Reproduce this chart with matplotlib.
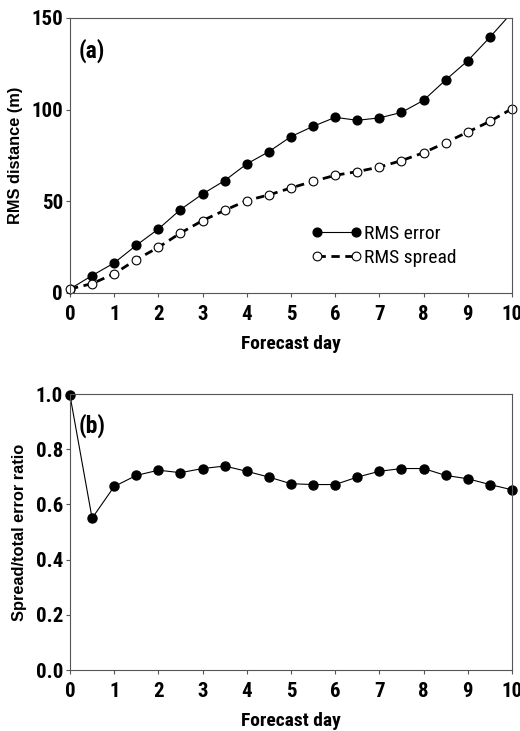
import matplotlib
matplotlib.use("Agg")
import matplotlib.pyplot as plt
from matplotlib import font_manager

days = [0, 0.5, 1, 1.5, 2, 2.5, 3, 3.5, 4, 4.5, 5, 5.5, 6, 6.5, 7, 7.5, 8, 8.5, 9, 9.5, 10]
rms_error = [2.2, 9.5, 16.4, 26.0, 34.9, 45.5, 54.0, 61.3, 70.4, 77.1, 85.3, 90.9, 95.8,
             94.2, 95.5, 98.5, 105.1, 116.2, 126.7, 139.5, 153.0]
rms_spread = [2.2, 5.1, 10.5, 18.2, 24.9, 32.7, 39.5, 45.1, 50.4, 53.5, 57.3, 60.9, 64.2,
              66.2, 68.7, 72.2, 76.5, 82.0, 87.8, 93.6, 100.5]
ratio = [0.995, 0.55, 0.665, 0.705, 0.724, 0.715, 0.73, 0.739, 0.72, 0.699, 0.675, 0.672,
         0.672, 0.699, 0.72, 0.73, 0.73, 0.705, 0.693, 0.672, 0.653]

x_ticks = list(range(0, 11))
y_ticks_a = [0, 50, 100, 150]
y_ticks_b = [0.0, 0.2, 0.4, 0.6, 0.8, 1.0]


def has_bold(name):
    for f in font_manager.fontManager.ttflist:
        if f.name == name and str(f.weight) in ("700", "bold") and f.style == "normal":
            return True
    return False


# condensed sans with a real bold face, else plain Liberation Sans
narrow = "Liberation Sans"
for cand in ["Liberation Sans Narrow", "Arial Narrow", "Roboto Condensed", "Archivo Narrow",
             "PT Sans Narrow", "Fira Sans Condensed", "IBM Plex Sans Condensed",
             "Barlow Semi Condensed", "Encode Sans Condensed", "Asap Condensed"]:
    if has_bold(cand):
        narrow = cand
        break
wide = "Liberation Sans"

fig = plt.figure(figsize=(5.2, 7.31), dpi=100)
ax_a = fig.add_axes([0.1346, 0.5992, 0.85, 0.3762])
ax_b = fig.add_axes([0.1346, 0.0834, 0.85, 0.3776])

frame_col = "#555555"


def style(ax, yticks, ylabels):
    for s in ax.spines.values():
        s.set_color(frame_col)
        s.set_linewidth(0.8)
    ax.set_xlim(0, 10)
    ax.set_xticks(x_ticks)
    ax.set_xticklabels([str(t) for t in x_ticks], family=narrow, weight="bold", fontsize=15)
    ax.set_yticks(yticks)
    ax.set_yticklabels(ylabels, family=narrow, weight="bold", fontsize=15)
    ax.tick_params(direction="out", length=3, width=0.8, color=frame_col)
    ax.tick_params(axis="x", pad=5.5)
    ax.tick_params(axis="y", pad=2)
    ax.set_xlabel("Forecast day", family=narrow, weight="bold", fontsize=14, labelpad=8)


# (a) RMS error and spread
ax_a.plot(days, rms_error, color="black", lw=0.8, marker="o", ms=6.3,
          mfc="black", mec="black", label="RMS error", clip_on=True)
ax_a.plot(days, rms_spread, color="black", lw=2.0, ls=(0, (3, 2)), marker="o", ms=6.3,
          mfc="white", mec="black", mew=0.8, label="RMS spread", clip_on=False)
ax_a.set_ylim(0, 150)
style(ax_a, y_ticks_a, [str(t) for t in y_ticks_a])
ax_a.set_ylabel("RMS distance (m)", family=wide, weight="bold", fontsize=11.8, labelpad=6)
ax_a.text(0.02, 0.88, "(a)", transform=ax_a.transAxes, family=narrow, weight="bold",
          fontsize=17, va="center")
ax_a.legend(loc="upper left", bbox_to_anchor=(0.545, 0.247), frameon=False, numpoints=2,
            borderpad=0, borderaxespad=0, handlelength=2.6, handletextpad=0.15,
            labelspacing=0.29, prop={"family": narrow, "size": 14})

# (b) spread / total error ratio
ax_b.plot(days, ratio, color="black", lw=0.8, marker="o", ms=6.5, mfc="black", mec="black",
          clip_on=False)
ax_b.set_ylim(0, 1.0)
style(ax_b, y_ticks_b, [f"{t:.1f}" for t in y_ticks_b])
ax_b.set_ylabel("Spread/total error ratio", family=wide, weight="bold", fontsize=11.8,
                labelpad=6)
ax_b.text(0.02, 0.884, "(b)", transform=ax_b.transAxes, family=narrow, weight="bold",
          fontsize=17, va="center")

fig.savefig("out.png", dpi=100)
